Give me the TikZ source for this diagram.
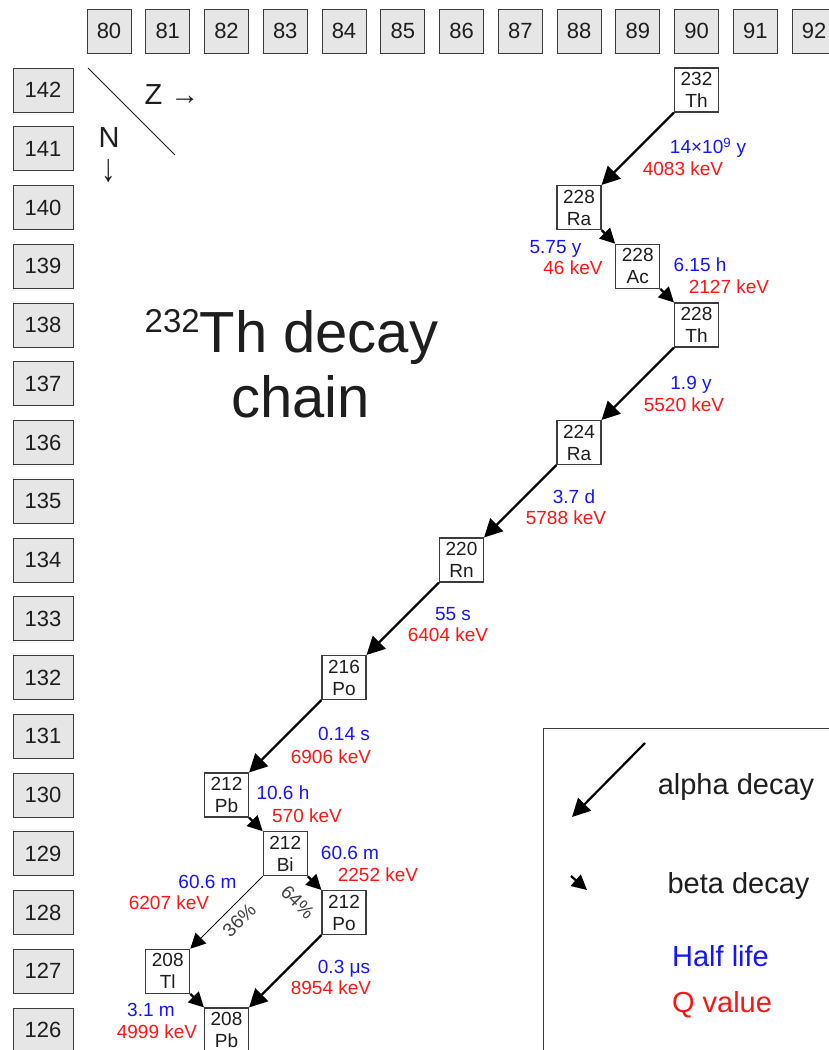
\documentclass[tikz,border=0pt]{standalone}
\usepackage{fontspec}
\setmainfont{Liberation Sans}
\usetikzlibrary{arrows.meta}
\definecolor{hl}{RGB}{20,20,255}
\definecolor{qv}{RGB}{255,20,20}
\definecolor{axfill}{RGB}{230,230,230}
\definecolor{txt}{RGB}{30,30,30}
\definecolor{edge}{RGB}{60,60,60}
\begin{document}
\begin{tikzpicture}[x=1pt,y=-1pt,
  zbox/.style={draw=edge,fill=axfill,line width=1pt,minimum width=44pt,minimum height=44pt,inner sep=0pt,font=\fontsize{22}{22}\selectfont,text=txt},
  nbox/.style={zbox,minimum width=60pt},
  nuc/.style={draw=edge,fill=white,line width=1.1pt,minimum width=44pt,minimum height=44pt,inner sep=0pt,align=center,font=\fontsize{19}{22}\selectfont,text=txt},
  lbl/.style={inner sep=0pt,text depth=0pt},
  hlife/.style={lbl,text height=13.7pt,text=hl,font=\fontsize{19}{19}\selectfont},
  qval/.style={lbl,text height=13.7pt,text=qv,font=\fontsize{19}{19}\selectfont},
  pct/.style={lbl,text height=13.7pt,text=txt!85,font=\fontsize{19}{19}\selectfont},
  legtext/.style={lbl,text height=20.9pt,font=\fontsize{29}{29}\selectfont},
  axlab/.style={lbl,text height=20.9pt,text=txt,font=\fontsize{29}{29}\selectfont},
  alphaarr/.style={-{Triangle[length=18pt,width=18pt]},line width=2.2pt,black},
  betaarr/.style={-{Triangle[length=15pt,width=15pt]},line width=2.2pt,black},
  thinarr/.style={-{Triangle[length=15pt,width=15pt]},line width=0.8pt,black},
  title/.style={anchor=base,inner sep=0pt,text=txt,font=\fontsize{58}{58}\selectfont}]
\useasboundingbox (0,0) rectangle (829,1050);
\clip (0,0) rectangle (829,1050);
% axes
\foreach \z in {80,...,92} \node[zbox] (z\z) at ({109+(\z-80)*58.75},31) {\z};
\foreach \n in {126,...,142} \node[nbox] (n\n) at (43,{90+(142-\n)*58.75}) {\n};
\coordinate (dga) at (88,68);
\coordinate (dgb) at (175,155);
\draw[line width=0.8pt,txt] (dga) -- (dgb);
\node[axlab] (zlab) at (172,94) {Z →};
\node[axlab] (nlab) at (109,137) {N};
\node[inner sep=0pt,text=txt,font=\fontsize{29}{29}\selectfont] (nar) at (109,171) {\scalebox{1}[1.35]{↓}};
% title
\node[title] (t1) at (291.5,352) {{\fontsize{33}{33}\selectfont\raisebox{20pt}{232}}Th decay};
\node[title] (t2) at (300.5,417) {chain};
% nuclides
\node[nuc] (th232) at (z90 |- n142) {232\\Th};
\node[nuc] (ra228) at (z88 |- n140) {228\\Ra};
\node[nuc] (ac228) at (z89 |- n139) {228\\Ac};
\node[nuc] (th228) at (z90 |- n138) {228\\Th};
\node[nuc] (ra224) at (z88 |- n136) {224\\Ra};
\node[nuc] (rn220) at (z86 |- n134) {220\\Rn};
\node[nuc] (po216) at (z84 |- n132) {216\\Po};
\node[nuc] (pb212) at (z82 |- n130) {212\\Pb};
\node[nuc] (bi212) at (z83 |- n129) {212\\Bi};
\node[nuc] (po212) at (z84 |- n128) {212\\Po};
\node[nuc] (tl208) at (z81 |- n127) {208\\Tl};
\node[nuc] (pb208) at (z82 |- n126) {208\\Pb};
% decays
\draw[alphaarr] (th232.south west) -- (ra228.north east);
\draw[betaarr] (ra228.south east) -- (ac228.north west);
\draw[betaarr] (ac228.south east) -- (th228.north west);
\draw[alphaarr] (th228.south west) -- (ra224.north east);
\draw[alphaarr] (ra224.south west) -- (rn220.north east);
\draw[alphaarr] (rn220.south west) -- (po216.north east);
\draw[alphaarr] (po216.south west) -- (pb212.north east);
\draw[betaarr] (pb212.south east) -- (bi212.north west);
\draw[betaarr] (bi212.south east) -- (po212.north west);
\draw[thinarr] (bi212.south west) -- (tl208.north east);
\draw[alphaarr] (po212.south west) -- (pb208.north east);
\draw[betaarr] (tl208.south east) -- (pb208.north west);
% labels
\node[hlife] (h1) at (708,147) {14×10\textsuperscript{9} y};
\node[qval] (q1) at (683,169) {4083 keV};
\node[hlife] (h2) at (555.5,247) {5.75 y};
\node[qval] (q2) at (573,268) {46 keV};
\node[hlife] (h3) at (700,265) {6.15 h};
\node[qval] (q3) at (729,287) {2127 keV};
\node[hlife] (h4) at (691,383) {1.9 y};
\node[qval] (q4) at (684,405) {5520 keV};
\node[hlife] (h5) at (574,497) {3.7 d};
\node[qval] (q5) at (566,518) {5788 keV};
\node[hlife] (h6) at (453,614) {55 s};
\node[qval] (q6) at (448,635) {6404 keV};
\node[hlife] (h7) at (344,734) {0.14 s};
\node[qval] (q7) at (331,757) {6906 keV};
\node[hlife] (h8) at (283,793) {10.6 h};
\node[qval] (q8) at (307,816) {570 keV};
\node[hlife] (h9) at (350,853) {60.6 m};
\node[qval] (q9) at (378,875) {2252 keV};
\node[hlife] (h10) at (207.5,882) {60.6 m};
\node[qval] (q10) at (169,903) {6207 keV};
\node[hlife] (h11) at (344,967) {0.3 μs};
\node[qval] (q11) at (331,988) {8954 keV};
\node[hlife] (h12) at (151,1010) {3.1 m};
\node[qval] (q12) at (157,1032) {4999 keV};
\node[pct,rotate=45] (p36) at (239,920) {36\%};
\node[pct,rotate=-45] (p64) at (298,902) {64\%};
% legend
\draw[edge,line width=1pt] (543,1070) -- (543,728) -- (850,728);
\coordinate (la1) at (645,743);
\coordinate (la2) at (572,817);
\coordinate (lb1) at (571,876);
\coordinate (lb2) at (587,890);
\draw[alphaarr] (la1) -- (la2);
\draw[betaarr] (lb1) -- (lb2);
\node[legtext,text=txt] (lg1) at (736,784) {alpha decay};
\node[legtext,text=txt] (lg2) at (738.5,883) {beta decay};
\node[legtext,text=hl] (lg3) at (720.5,956) {Half life};
\node[legtext,text=qv] (lg4) at (722,1002) {Q value};
\end{tikzpicture}
\end{document}
